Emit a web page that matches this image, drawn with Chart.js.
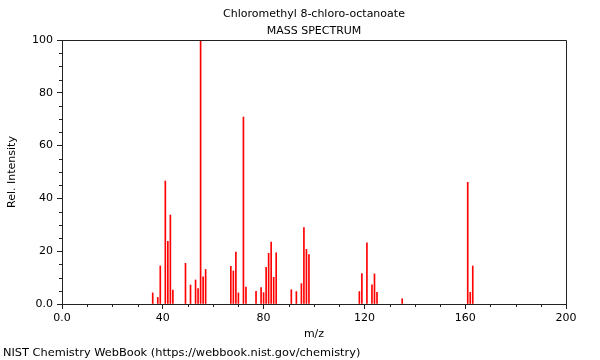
<!DOCTYPE html>
<html>
<head>
<meta charset="utf-8">
<script src="https://cdn.jsdelivr.net/npm/chart.js@4"></script>
<style>
  html, body { margin: 0; padding: 0; background: #fff; }
</style>
</head>
<body>
<canvas id="ms" width="600" height="360"></canvas>
<script>
// ===== Spectrum data =====
const mz = [36, 38, 39, 41, 42, 43, 44, 49, 51, 53, 54, 55, 56, 57,
            67, 68, 69, 70, 72, 73, 77, 79, 80, 81, 82, 83, 84, 85,
            91, 93, 95, 96, 97, 98, 118, 119, 121, 123, 124, 125, 135,
            161, 162, 163];
const intensity = [4.2, 2.5, 14.4, 46.6, 23.7, 33.7, 5.3, 15.4, 7.2, 9.1, 5.8, 100, 10.3, 13.1,
                   14.3, 12.5, 19.7, 4.2, 70.8, 6.4, 4.8, 6.2, 4.3, 13.9, 19.2, 23.5, 10.1, 19.4,
                   5.4, 4.7, 7.7, 28.9, 20.7, 18.7, 4.7, 11.5, 23.2, 7.3, 11.4, 4.4, 2.0,
                   46.1, 4.4, 14.4];

const xTicks = [0, 40, 80, 120, 160, 200];
const xMinorTicks = [10, 20, 30, 50, 60, 70, 90, 100, 110, 130, 140, 150, 170, 180, 190];
const yTicks = [0, 20, 40, 60, 80, 100];
const yMinorTicks = [5, 10, 15, 25, 30, 35, 45, 50, 55, 65, 70, 75, 85, 90, 95];

const titleLines = ["Chloromethyl 8-chloro-octanoate", "MASS SPECTRUM"];
const footer = "NIST Chemistry WebBook (https://webbook.nist.gov/chemistry)";

const axisColor = "#222";
const FONT = "11px 'DejaVu Sans'";

Chart.defaults.font.family = "'DejaVu Sans', sans-serif";
Chart.defaults.font.size = 11;
Chart.defaults.color = "#000";

// frame, minor ticks and the free-standing texts
const decorations = {
  id: "decorations",
  afterDraw(chart) {
    const { ctx, chartArea: a, scales: { x, y } } = chart;
    ctx.save();
    ctx.strokeStyle = axisColor;
    ctx.lineWidth = 1;
    ctx.beginPath();
    ctx.moveTo(a.left, a.top + 0.5);
    ctx.lineTo(a.right + 0.5, a.top + 0.5);
    ctx.lineTo(a.right + 0.5, a.bottom);
    xMinorTicks.forEach(v => {
      const px = Math.round(x.getPixelForValue(v)) + 0.5;
      ctx.moveTo(px, a.bottom);
      ctx.lineTo(px, a.bottom + 3);
    });
    yMinorTicks.forEach(v => {
      const py = Math.round(y.getPixelForValue(v)) + 0.5;
      ctx.moveTo(a.left, py);
      ctx.lineTo(a.left - 3, py);
    });
    ctx.stroke();

    ctx.fillStyle = "#000";
    ctx.font = FONT;
    ctx.textAlign = "center";
    ctx.textBaseline = "alphabetic";
    const cx = (a.left + a.right) / 2;
    ctx.fillText(titleLines[0], cx, 17);
    ctx.fillText(titleLines[1], cx, 34);
    ctx.fillText("m/z", cx, 337);
    ctx.textAlign = "left";
    ctx.font = "11.35px 'DejaVu Sans'";
    ctx.fillText(footer, 3, 356);

    ctx.font = FONT;
    ctx.translate(15, (a.top + a.bottom) / 2);
    ctx.rotate(-Math.PI / 2);
    ctx.textAlign = "center";
    ctx.fillText("Rel. Intensity", 0, 0);
    ctx.restore();
  }
};

new Chart(document.getElementById("ms"), {
  type: "bar",
  data: {
    datasets: [{
      data: mz.map((m, i) => ({ x: m, y: intensity[i] })),
      backgroundColor: "#ff0000",
      borderWidth: 0,
      barThickness: 1
    }]
  },
  options: {
    responsive: false,
    animation: false,
    layout: { padding: { top: 40, right: 34, bottom: 36, left: 0 } },
    plugins: { legend: { display: false }, tooltip: { enabled: false } },
    scales: {
      x: {
        type: "linear",
        min: 0, max: 200,
        offset: false,
        afterFit(s) { s.height = 20; },
        afterBuildTicks(s) { s.ticks = xTicks.map(v => ({ value: v })); },
        ticks: {
          autoSkip: false, maxRotation: 0, padding: 3,
          callback: v => (v === 0 ? "0.0" : v)
        },
        grid: { drawOnChartArea: false, offset: false, tickLength: 5, color: axisColor },
        border: { color: axisColor }
      },
      y: {
        min: 0, max: 100,
        afterFit(s) { s.width = 62; },
        afterBuildTicks(s) { s.ticks = yTicks.map(v => ({ value: v })); },
        ticks: {
          padding: 4,
          callback: v => (v === 0 ? "0.0" : v)
        },
        grid: { drawOnChartArea: false, tickLength: 5, color: axisColor },
        border: { color: axisColor }
      }
    }
  },
  plugins: [decorations]
});
</script>
</body>
</html>
